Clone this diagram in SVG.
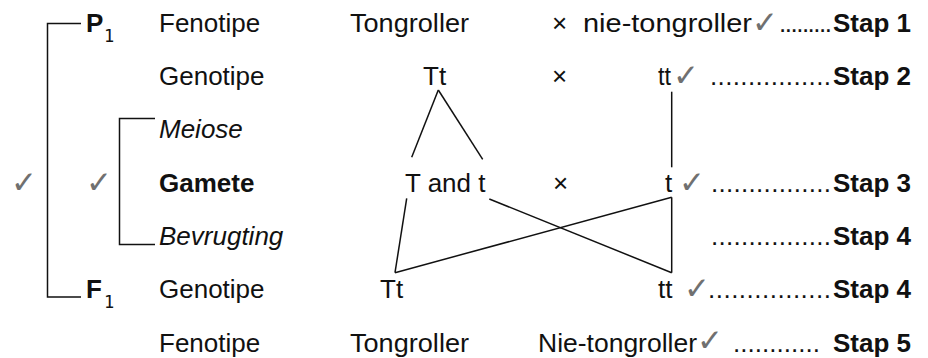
<svg xmlns="http://www.w3.org/2000/svg" width="928" height="358" viewBox="0 0 928 358">
<style>
text{font-family:"Liberation Sans",Arial,sans-serif;font-size:26px;fill:#111}
.b{font-weight:bold}
.i{font-style:italic}
.ck{font-family:"DejaVu Sans",sans-serif;font-size:31px;fill:#707070}
.sub{font-family:"DejaVu Sans Mono",monospace;font-size:17px}
.ln{stroke:#111;stroke-width:1.5;fill:none}
</style>
<rect width="928" height="358" fill="#fff"/>
<g id="connectors" class="ln">
<polyline points="81,23.5 47.5,23.5 47.5,297 81,297"/>
<polyline points="155,118.5 119.5,118.5 119.5,244.5 155,244.5"/>
<line x1="411.7" y1="157.3" x2="438.3" y2="90"/>
<line x1="438.3" y1="90" x2="482.7" y2="159.3"/>
<line x1="671.7" y1="91.7" x2="671.7" y2="167.3"/>
<line x1="406.7" y1="198.3" x2="395" y2="272.7"/>
<line x1="395" y1="272.7" x2="671.7" y2="197.3"/>
<line x1="671.7" y1="197.3" x2="671.7" y2="272.7"/>
<line x1="489.3" y1="199" x2="671.7" y2="272.7"/>
</g>
<g id="checks-left">
<text class="ck" x="11" y="193">✓</text>
<text class="ck" x="86" y="193">✓</text>
</g>
<g id="p1">
<text class="b" x="86" y="32">P</text>
<text class="sub" x="104" y="42">1</text>
</g>
<g id="f1">
<text class="b" x="86" y="298">F</text>
<text class="sub" x="104" y="308">1</text>
</g>
<g id="labels">
<text x="159" y="32">Fenotipe</text>
<text x="159" y="85">Genotipe</text>
<text class="i" x="159" y="138">Meiose</text>
<text class="b" x="159" y="192">Gamete</text>
<text class="i" x="159" y="245">Bevrugting</text>
<text x="159" y="298">Genotipe</text>
<text x="159" y="352">Fenotipe</text>
</g>
<g id="row1">
<text x="350" y="32" textLength="119" lengthAdjust="spacingAndGlyphs">Tongroller</text>
<text x="552" y="32">×</text>
<text x="583" y="32" textLength="169" lengthAdjust="spacingAndGlyphs">nie-tongroller</text>
<text class="ck" x="752" y="33">✓</text>
<text x="779" y="32" textLength="53" lengthAdjust="spacing">.........</text>
<text class="b" x="833" y="32">Stap 1</text>
</g>
<g id="row2">
<text x="423" y="85">Tt</text>
<text x="552" y="85">×</text>
<text x="658" y="85" textLength="13" lengthAdjust="spacingAndGlyphs">tt</text>
<text class="ck" x="673" y="86">✓</text>
<text x="710" y="85" textLength="121" lengthAdjust="spacing">................</text>
<text class="b" x="833" y="85">Stap 2</text>
</g>
<g id="row4">
<text x="665" y="192">t</text>
<text x="405" y="192">T and t</text>
<text x="553" y="192">×</text>
<text class="ck" x="679" y="193">✓</text>
<text x="711" y="192" textLength="120" lengthAdjust="spacing">................</text>
<text class="b" x="833" y="192">Stap 3</text>
</g>
<g id="row5">
<text x="711" y="245" textLength="120" lengthAdjust="spacing">................</text>
<text class="b" x="833" y="245">Stap 4</text>
</g>
<g id="row6">
<text x="380" y="298">Tt</text>
<text x="658" y="298">tt</text>
<text class="ck" x="684" y="299">✓</text>
<text x="708" y="298" textLength="123" lengthAdjust="spacing">................</text>
<text class="b" x="833" y="298">Stap 4</text>
</g>
<g id="row7">
<text x="350" y="352" textLength="119" lengthAdjust="spacingAndGlyphs">Tongroller</text>
<text x="538" y="352" textLength="159" lengthAdjust="spacingAndGlyphs">Nie-tongroller</text>
<text class="ck" x="697" y="351">✓</text>
<text x="733" y="352" textLength="87" lengthAdjust="spacing">............</text>
<text class="b" x="833" y="352">Stap 5</text>
</g>
</svg>
